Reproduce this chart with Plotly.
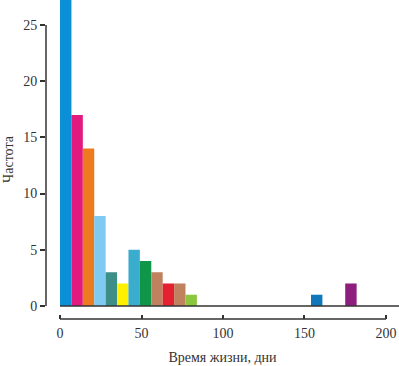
import plotly.graph_objects as go

bin_width = 7
bin_starts = [0, 7, 14, 21, 28, 35, 42, 49, 56, 63, 70, 77, 154, 175]
counts = [28, 17, 14, 8, 3, 2, 5, 4, 3, 2, 2, 1, 1, 2]
colors = ["#0b8fd6", "#e2197e", "#ee7a20", "#7ecaf0", "#3e8e88", "#fff000",
          "#3aaccd", "#0f9649", "#c0815f", "#e32131", "#c0815f", "#8cc63f",
          "#1177bb", "#8e1e7d"]
x_ticks = [0, 50, 100, 150, 200]
y_ticks = [0, 5, 10, 15, 20, 25]

centers = [s + bin_width / 2 for s in bin_starts]

fig = go.Figure()
fig.add_trace(go.Bar(x=centers, y=counts, width=bin_width,
                     marker=dict(color=colors, line=dict(width=0))))
# empty trace so the tick-mark overlay axis is drawn
fig.add_trace(go.Scatter(x=[], y=[], xaxis="x2", hoverinfo="skip"))

font = dict(family="Liberation Serif", size=14, color="#333333")
fig.update_layout(
    width=399, height=366,
    margin=dict(l=46, r=0, t=0, b=47),
    plot_bgcolor="white", paper_bgcolor="white",
    showlegend=False, font=font,
    xaxis=dict(range=[-8.6, 208], tickvals=x_ticks, ticks="",
               showgrid=False, zeroline=False,
               showline=False, automargin=False, ticklabelstandoff=4,
               title=dict(text="Время жизни, дни", standoff=12, font=font)),
    xaxis2=dict(range=[-8.6, 208], tickvals=x_ticks, ticks="inside", ticklen=4,
                tickwidth=1.5, tickcolor="#333", showticklabels=False,
                showgrid=False, zeroline=False, showline=False,
                automargin=False, overlaying="x", side="bottom", anchor="y"),
    yaxis=dict(range=[-1.16, 27.22], tickvals=y_ticks, ticks="outside", ticklen=5,
               tickwidth=1.5, tickcolor="#333", showgrid=False, zeroline=False,
               showline=False, automargin=False,
               title=dict(text="Частота", standoff=6, font=font)),
)
fig.add_shape(type="line", xref="paper", yref="y", x0=0, x1=0, y0=0, y1=25,
              line=dict(color="#333", width=1.5), layer="above")
fig.add_shape(type="line", xref="x", yref="paper", x0=0, x1=200, y0=0, y1=0,
              line=dict(color="#333", width=1.5), layer="above")
fig.add_shape(type="line", xref="x", yref="y", x0=0, x1=208, y0=0, y1=0,
              line=dict(color="#333", width=1.5), layer="above")
fig.write_html("out.html", config={"displayModeBar": False},
               post_script="document.body.style.margin='0';")
